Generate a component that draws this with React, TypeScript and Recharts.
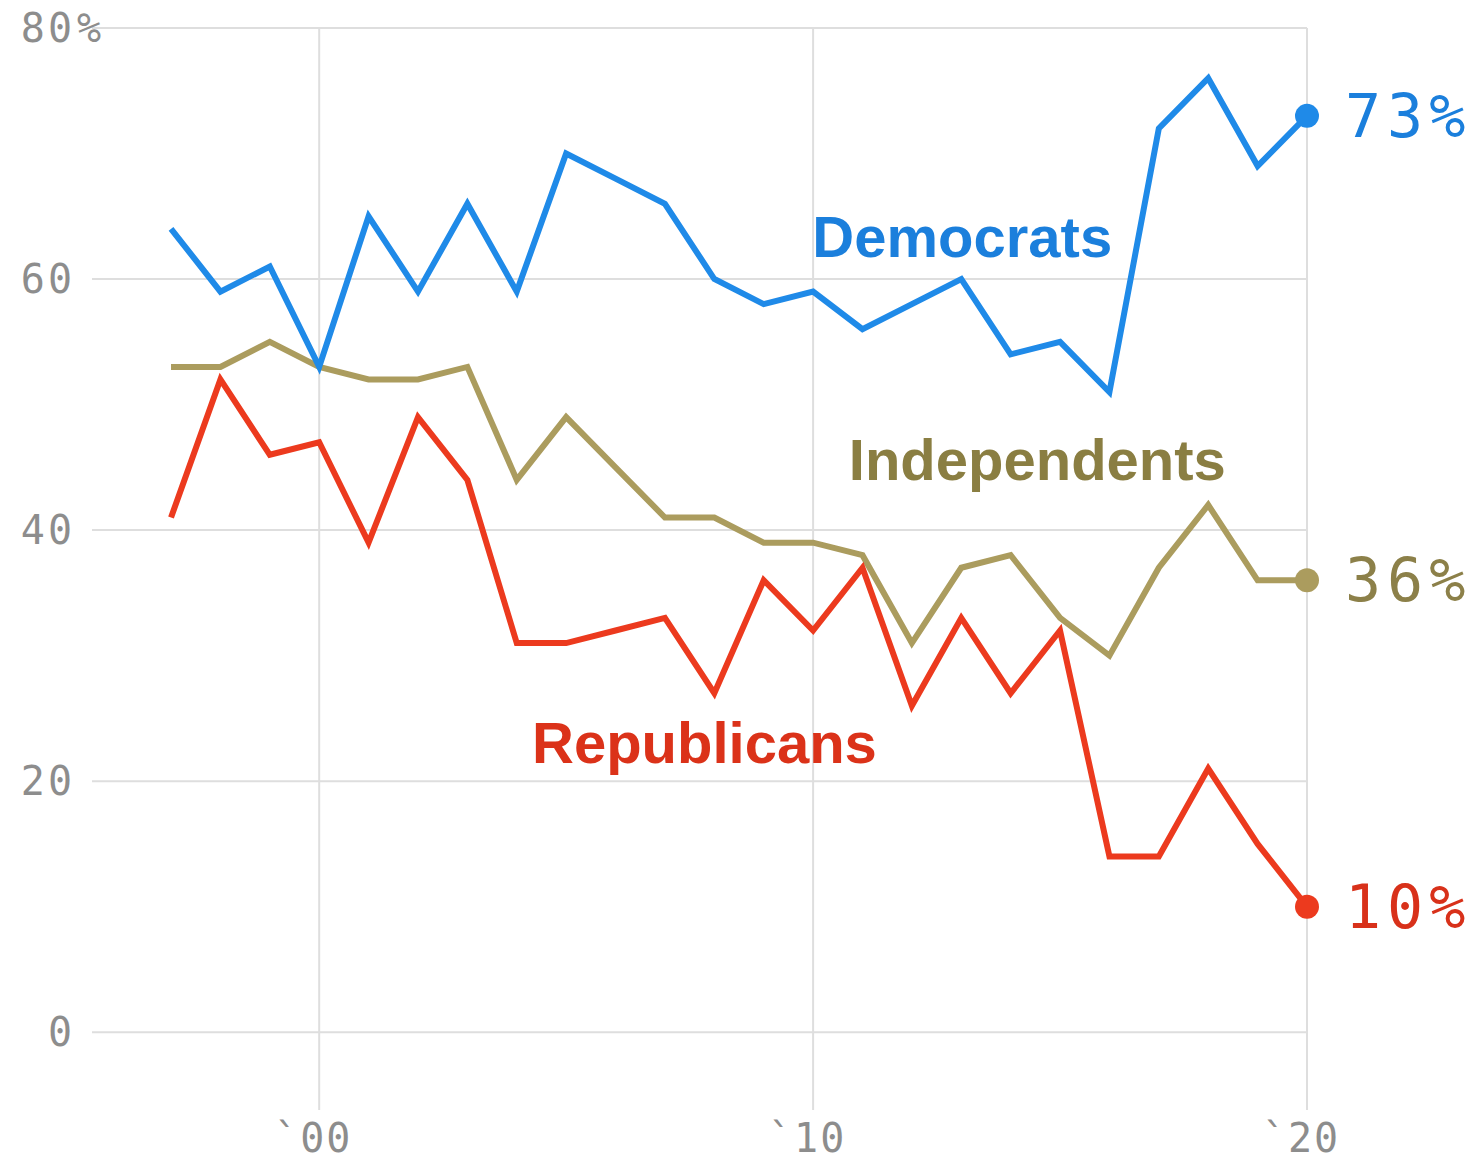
import React from "react";
import { CartesianGrid, Line, LineChart, ReferenceDot, XAxis, YAxis } from "recharts";

const years = [
  1997, 1998, 1999, 2000, 2001, 2002, 2003, 2004, 2005, 2006, 2007, 2008,
  2009, 2010, 2011, 2012, 2013, 2014, 2015, 2016, 2017, 2018, 2019, 2020,
];
const democrats = [64, 59, 61, 53, 65, 59, 66, 59, 70, 68, 66, 60, 58, 59, 56, 58, 60, 54, 55, 51, 72, 76, 69, 73];
const independents = [53, 53, 55, 53, 52, 52, 53, 44, 49, 45, 41, 41, 39, 39, 38, 31, 37, 38, 33, 30, 37, 42, 36, 36];
const republicans = [41, 52, 46, 47, 39, 49, 44, 31, 31, 32, 33, 27, 36, 32, 37, 26, 33, 27, 32, 14, 14, 21, 15, 10];

const xTicks = [2000, 2010, 2020];
const yTicks = [0, 20, 40, 60, 80];

// where the series names sit (year, value at text baseline)
const seriesNames = [
  { name: "Democrats", year: 2013.02, value: 61.75, color: "#1b7fdc" },
  { name: "Independents", year: 2014.54, value: 43.98, color: "#8a7e42" },
  { name: "Republicans", year: 2007.8, value: 21.43, color: "#db3219" },
];

const data = years.map((year, i) => ({
  year,
  dem: democrats[i],
  ind: independents[i],
  rep: republicans[i],
}));

const MONO = "'DejaVu Sans Mono', 'Liberation Mono', monospace";
const SANS = "'Liberation Sans', Arial, sans-serif";

function YTick(props: any) {
  const { x, y, payload } = props;
  return (
    <g>
      <text x={x} y={y} textAnchor="end" dominantBaseline="central" fontFamily={MONO} fontSize={40} fill="#8d8d8d" letterSpacing={3}>
        {payload.value}
      </text>
      {payload.value === 80 && (
        <text x={x + 2} y={y} textAnchor="start" dominantBaseline="central" fontFamily={MONO} fontSize={40} fill="#8d8d8d">
          %
        </text>
      )}
    </g>
  );
}

function XTick(props: any) {
  const { x, y, payload } = props;
  return (
    <text x={x - 6} y={y} textAnchor="middle" dominantBaseline="hanging" fontFamily={MONO} fontSize={40} fill="#8d8d8d" letterSpacing={2}>
      {"`" + String(payload.value).slice(2)}
    </text>
  );
}

function endDot(color: string, textColor: string) {
  return (props: any) => {
    const { cx, cy, index, value } = props;
    if (index !== years.length - 1) return <g key={`d${index}`} />;
    return (
      <g key={`d${index}`}>
        <circle cx={cx} cy={cy} r={12} fill={color} />
        <text x={cx + 38} y={cy} dominantBaseline="central" fontFamily={MONO} fontSize={60} fill={textColor} letterSpacing={6}>
          {`${value}%`}
        </text>
      </g>
    );
  };
}

export default function App() {
  return (
    <div style={{ position: "absolute", left: 0, top: 0, background: "#fff" }}>
      <LineChart width={1479} height={1160} data={data} margin={{ top: 28, right: 172, bottom: 0, left: 0 }}>
        <CartesianGrid stroke="#dedede" strokeWidth={2} horizontalValues={yTicks} verticalValues={xTicks} />
        <XAxis
          dataKey="year"
          type="number"
          domain={[1995.4, 2020]}
          ticks={xTicks}
          axisLine={false}
          tickLine={false}
          tickSize={0}
          tickMargin={12}
          height={50}
          tick={<XTick />}
        />
        <YAxis
          type="number"
          domain={[-6.2, 80]}
          ticks={yTicks}
          axisLine={false}
          tickLine={false}
          tickSize={0}
          tickMargin={17}
          width={92}
          tick={<YTick />}
        />
        <Line type="linear" dataKey="ind" stroke="#ab9c5e" strokeWidth={6} strokeLinejoin="miter" dot={endDot("#ab9c5e", "#8c8049")} activeDot={false} isAnimationActive={false} />
        <Line type="linear" dataKey="rep" stroke="#ec3a1e" strokeWidth={6} strokeLinejoin="miter" dot={endDot("#ec3a1e", "#d8311a")} activeDot={false} isAnimationActive={false} />
        <Line type="linear" dataKey="dem" stroke="#1f8ae8" strokeWidth={6} strokeLinejoin="miter" dot={endDot("#1f8ae8", "#1b7fdc")} activeDot={false} isAnimationActive={false} />
        {seriesNames.map((s) => (
          <ReferenceDot
            key={s.name}
            x={s.year}
            y={s.value}
            r={0}
            fill="none"
            stroke="none"
            label={(p: any) => (
              <text
                x={p.viewBox.x + (p.viewBox.width || 0) / 2}
                y={p.viewBox.y + (p.viewBox.height || 0) / 2}
                textAnchor="middle"
                fontFamily={SANS}
                fontWeight="bold"
                fontSize={58}
                fill={s.color}
              >
                {s.name}
              </text>
            )}
          />
        ))}
      </LineChart>
    </div>
  );
}
